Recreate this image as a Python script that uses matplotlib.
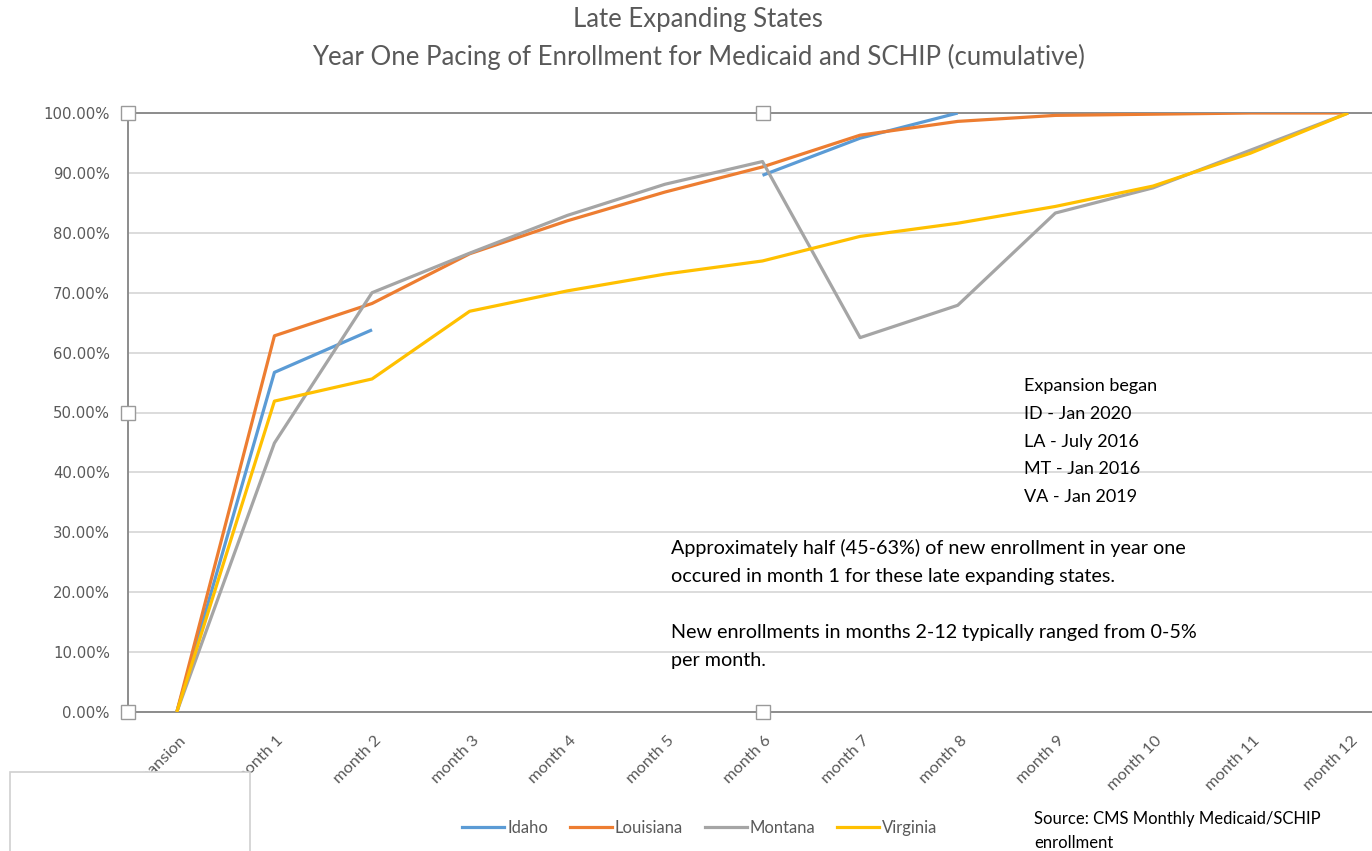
import matplotlib
matplotlib.use('Agg')
import matplotlib.pyplot as plt
import numpy as np
from matplotlib.patches import Rectangle
from matplotlib.ticker import FuncFormatter, MultipleLocator
from matplotlib.lines import Line2D
import matplotlib.transforms as mtransforms

nan = np.nan
categories = ['Expansion', 'month 1', 'month 2', 'month 3', 'month 4', 'month 5', 'month 6',
              'month 7', 'month 8', 'month 9', 'month 10', 'month 11', 'month 12']
idaho = [0, 56.7, 63.8, nan, nan, nan, 89.6, 95.8, 100, nan, nan, nan, nan]
louisiana = [0, 62.8, 68.2, 76.5, 82.0, 86.8, 91.0, 96.3, 98.6, 99.6, 99.8, 100, 100]
montana = [0, 44.9, 70.0, 76.6, 82.9, 88.1, 91.9, 62.5, 67.9, 83.3, 87.5, 93.8, 100]
virginia = [0, 51.9, 55.6, 66.9, 70.3, 73.1, 75.3, 79.4, 81.6, 84.4, 87.8, 93.3, 100]
series_names = ['Idaho', 'Louisiana', 'Montana', 'Virginia']
series_colors = ['#5B9BD5', '#ED7D31', '#A5A5A5', '#FFC000']
title_lines = ['Late Expanding States',
               'Year One Pacing of Enrollment for Medicaid and SCHIP (cumulative)']
note1 = ['Expansion began', 'ID - Jan 2020', 'LA - July 2016', 'MT - Jan 2016', 'VA - Jan 2019']
note2 = ['Approximately half (45-63%) of new enrollment in year one',
         'occured in month 1 for these late expanding states.',
         '',
         'New enrollments in months 2-12 typically ranged from 0-5%',
         'per month.']
source = ['Source: CMS Monthly Medicaid/SCHIP', 'enrollment']

W, H = 1372, 851
fig = plt.figure(figsize=(W / 100, H / 100), dpi=100)
fig.patch.set_facecolor('white')

def fx(px):
    return px / W

def fy(py):
    return 1 - py / H

ax = fig.add_axes([fx(128), fy(712), (1397 - 128) / W, (712 - 113) / H])
x = np.arange(len(categories))
for name, vals, col in zip(series_names, [idaho, louisiana, montana, virginia], series_colors):
    ax.plot(x, vals, color=col, lw=2.3, label=name, solid_capstyle='butt', zorder=3)

ax.set_xlim(-0.5, len(categories) - 0.5)
ax.set_ylim(0, 100)
ax.yaxis.set_major_locator(MultipleLocator(10))
ax.yaxis.set_major_formatter(FuncFormatter(lambda v, p: f'{v:.2f}%'))
ax.grid(axis='y', color='#D9D9D9', lw=1.3, zorder=0)
ax.set_axisbelow(True)
for s in ['left', 'top', 'bottom']:
    ax.spines[s].set_color('#8C8C8C')
    ax.spines[s].set_linewidth(1.4)
ax.spines['right'].set_visible(False)
ax.tick_params(axis='y', length=0, pad=13, labelsize=10.7, labelcolor='#595959')
ax.tick_params(axis='x', length=0, pad=6, labelsize=11.8, labelcolor='#595959')
ax.set_xticks(x)
ax.set_xticklabels(categories, rotation=45, ha='right', va='center', rotation_mode='anchor',
                   fontfamily='Lato')
offset = mtransforms.ScaledTranslation(7 / 100, -18 / 100, fig.dpi_scale_trans)
for lbl in ax.get_xticklabels():
    lbl.set_transform(lbl.get_transform() + offset)

# selection handles
for hx, hy in [(0, 1), (0.5, 1), (0, 0.5), (0, 0), (0.5, 0)]:
    ax.plot([hx], [hy], marker='s', ms=10, mfc='white', mec='#9A9A9A', mew=1.0,
            transform=ax.transAxes, clip_on=False, zorder=10)

# titles
fig.text(fx(698), fy(20), title_lines[0], ha='center', va='center', fontsize=18.5,
         color='#595959', fontfamily='Lato')
fig.text(fx(698), fy(57), title_lines[1], ha='center', va='center', fontsize=18.5,
         color='#595959', fontfamily='Lato')

for i, t in enumerate(note1):
    fig.text(fx(1024), fy(386 + i * 27.8), t, ha='left', va='center', fontsize=13,
             color='black', fontfamily='Lato')
for i, t in enumerate(note2):
    fig.text(fx(671), fy(548 + i * 28.2), t, ha='left', va='center', fontsize=14.2,
             color='black', fontfamily='Lato')
for i, t in enumerate(source):
    fig.text(fx(1034), fy(819 + i * 24), t, ha='left', va='center', fontsize=12,
             color='black', fontfamily='Lato')

# overlapping blank box at lower-left
fig.patches.append(Rectangle((fx(10), fy(860)), fx(250) - fx(10), fy(772) - fy(860),
                             transform=fig.transFigure, facecolor='white',
                             edgecolor='#D0D0D0', lw=1.2, zorder=20))

handles = [Line2D([], [], color=c, lw=2.3) for c in series_colors]
leg = fig.legend(handles, series_names, loc='center', bbox_to_anchor=(fx(700), fy(828)),
                 ncol=4, frameon=False, handlelength=2.5, handletextpad=0.2,
                 columnspacing=1.3, labelcolor='#595959', prop={'family': 'Lato', 'size': 12})

fig.savefig('out.png', dpi=100, facecolor='white')
